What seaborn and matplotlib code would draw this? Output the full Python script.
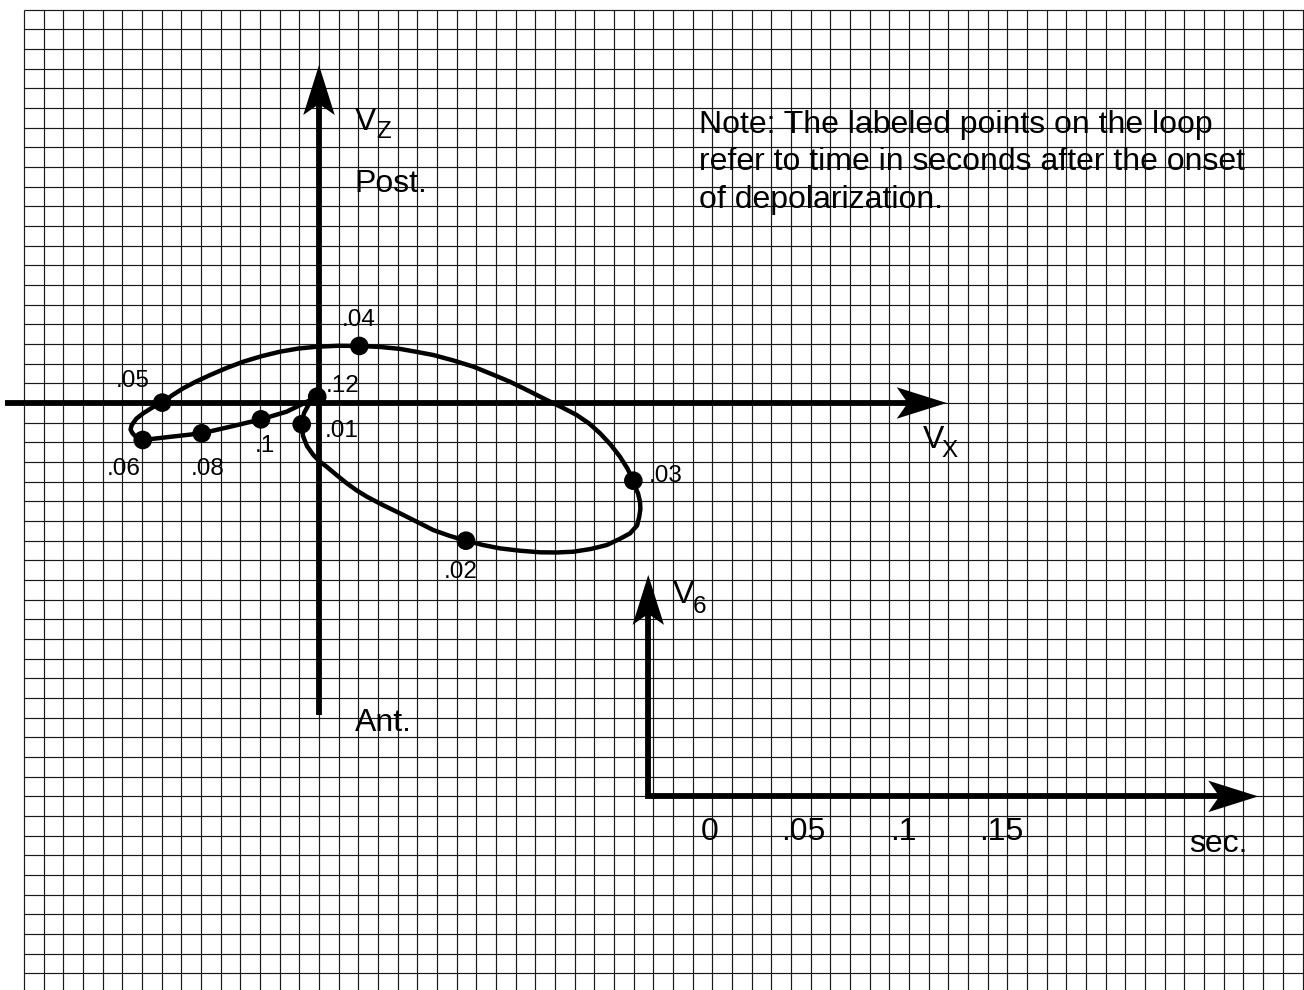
#!/usr/bin/env python3

import pandas as pd
import matplotlib
matplotlib.use("Agg")
from matplotlib import pyplot as plt
from matplotlib.patches import Polygon
import seaborn as sns


# VCG loop trace, in grid squares from the Vx/Vz origin (x right, z up)
loop_x = [-0.51, -0.76, -0.88, -0.81, -0.61, -0.29, 0.03, 0.39, 0.89, 1.41,
          1.91, 2.43, 3.25, 4.12, 4.96, 5.81, 6.63, 7.47, 8.34, 9.20,
          10.22, 11.24, 12.08, 12.93, 13.83, 14.63, 15.27, 15.81, 16.17, 16.28,
          16.34, 16.32, 16.22, 16.07, 15.98, 15.68, 15.30, 14.82, 14.29, 13.73,
          13.10, 12.35, 11.58, 10.65, 9.71, 8.78, 7.84, 6.84, 5.81, 4.96,
          4.12, 3.10, 2.05, 0.97, -0.12, -1.04, -1.98, -2.92, -3.85, -4.70,
          -5.54, -6.23, -6.90, -7.45, -7.97, -8.47, -8.93, -9.28, -9.52, -9.58,
          -9.48, -9.26, -8.96, -7.74, -5.96, -4.36, -2.95, -1.64, -0.09]
loop_z = [-0.05, -0.51, -1.08, -1.68, -2.19, -2.64, -2.97, -3.24, -3.66, -4.08,
          -4.44, -4.76, -5.19, -5.61, -6.03, -6.46, -6.75, -7.00, -7.22, -7.39,
          -7.51, -7.59, -7.60, -7.56, -7.42, -7.22, -6.92, -6.63, -6.23, -5.78,
          -5.39, -5.02, -4.60, -4.26, -3.95, -3.33, -2.73, -2.11, -1.54, -1.04,
          -0.61, -0.22, 0.15, 0.62, 1.08, 1.47, 1.85, 2.16, 2.44, 2.60,
          2.75, 2.85, 2.90, 2.91, 2.86, 2.77, 2.61, 2.38, 2.10, 1.78,
          1.42, 1.10, 0.75, 0.40, 0.02, -0.23, -0.52, -0.79, -1.12, -1.35,
          -1.54, -1.77, -1.88, -1.74, -1.54, -1.17, -0.83, -0.44, 0.32]

# labeled points on the loop (seconds after onset)
point_labels = [".01", ".02", ".03", ".04", ".05", ".06", ".08", ".1", ".12"]
point_x = [-0.88, 7.47, 15.98, 2.05, -7.97, -8.96, -5.96, -2.95, -0.09]
point_z = [-1.08, -7.00, -3.95, 2.90, 0.02, -1.88, -1.54, -0.83, 0.32]
label_dx = [1.19, -1.15, 0.76, -0.90, -2.35, -1.83, -0.56, -0.30, 0.45]
label_dz = [-0.63, -1.91, -0.05, 1.01, 0.81, -1.78, -2.12, -1.65, 0.25]

# V6 time axis labels
time_ticks = ["0", ".05", ".1", ".15"]
time_tick_x = [19.88, 24.61, 29.69, 34.71]

note_lines = [
    "Note: The labeled points on the loop",
    "refer to time in seconds after the onset",
    "of depolarization.",
]

unit_px = 19.67
origin_px = (319, 403)
width_px, height_px = 1304, 990

big_font = 23
small_font = 17.5
axis_lw = 4.2


def arrow_head(ax, tip, direction, length=2.54, half_width=0.8, notch=0.56):
    tx, ty = tip
    dx, dy = direction
    nx, ny = -dy, dx
    bx, by = tx - dx * length, ty - dy * length
    pts = [
        (tx, ty),
        (bx + nx * half_width, by + ny * half_width),
        (bx + dx * notch, by + dy * notch),
        (bx - nx * half_width, by - ny * half_width),
    ]
    ax.add_patch(Polygon(pts, closed=True, facecolor="black", edgecolor="none", zorder=5))
    return bx + dx * notch, by + dy * notch


def draw_grid(ax, xlim, ylim):
    xs = range(-15, 51)
    ys = range(-29, 21)
    ax.vlines(list(xs), ylim[0], 20, colors="#1a1a1a", linewidth=0.85, zorder=1)
    ax.hlines(list(ys), -15, xlim[1], colors="#1a1a1a", linewidth=0.85, zorder=1)


def put_text(ax, x, y, s, size=big_font, ha="left"):
    ax.text(x, y, s, fontsize=size, ha=ha, va="baseline", color="black", zorder=6)


def sub_label(ax, x, y, main, sub, dx, dy):
    put_text(ax, x, y, main)
    put_text(ax, x + dx, y + dy, sub, size=small_font)


def gen_vcg_fig(out_path):
    sns.set_theme(style="white")
    plt.rcParams["font.family"] = ["Liberation Sans", "DejaVu Sans"]

    fig = plt.figure(figsize=(width_px / 100, height_px / 100), dpi=100)
    ax = fig.add_axes([0, 0, 1, 1])
    xlim = (-origin_px[0] / unit_px, (width_px - origin_px[0]) / unit_px)
    ylim = ((origin_px[1] - height_px) / unit_px, origin_px[1] / unit_px)

    draw_grid(ax, xlim, ylim)

    # Vx / Vz axes
    end_x = arrow_head(ax, (31.91, 0), (1, 0))
    ax.plot([-15.96, end_x[0]], [0, 0], color="black", lw=axis_lw,
            solid_capstyle="butt", zorder=4)
    end_z = arrow_head(ax, (0, 17.18), (0, 1))
    ax.plot([0, 0], [-15.86, end_z[1]], color="black", lw=axis_lw,
            solid_capstyle="butt", zorder=4)

    # V6 / time axes
    v6_x, v6_base = 16.74, -20.0
    top = arrow_head(ax, (v6_x, -8.74), (0, 1))
    right = arrow_head(ax, (47.75, v6_base), (1, 0))
    ax.plot([v6_x, v6_x, right[0]], [top[1], v6_base, v6_base], color="black",
            lw=axis_lw, solid_capstyle="butt", solid_joinstyle="miter", zorder=4)

    # loop
    loop_df = pd.DataFrame({"x": loop_x, "z": loop_z})
    sns.lineplot(data=loop_df, x="x", y="z", sort=False, estimator=None,
                 color="black", linewidth=3.2, ax=ax, zorder=3)
    loop_line = ax.lines[-1]
    loop_line.set_solid_joinstyle("round")
    loop_line.set_solid_capstyle("round")

    pts_df = pd.DataFrame({"x": point_x, "z": point_z, "label": point_labels})
    sns.scatterplot(data=pts_df, x="x", y="z", color="black", s=180,
                    edgecolor="none", ax=ax, zorder=6, legend=False)
    for lab, x, z, dx, dz in zip(point_labels, point_x, point_z, label_dx, label_dz):
        put_text(ax, x + dx, z + dz, lab, size=small_font)

    ax.set_xlim(*xlim)
    ax.set_ylim(*ylim)
    ax.axis("off")

    # axis texts
    sub_label(ax, 1.83, 13.88, "V", "Z", 1.10, -0.41)
    put_text(ax, 1.78, 10.74, "Post.")
    put_text(ax, 1.83, -16.68, "Ant.")
    sub_label(ax, 30.71, -2.29, "V", "X", 0.95, -0.44)
    sub_label(ax, 18.0, -10.18, "V", "6", 1.0, -0.48)
    put_text(ax, 44.23, -22.81, "sec.")
    for lab, x in zip(time_ticks, time_tick_x):
        put_text(ax, x, -22.22, lab, ha="center")

    for i, line in enumerate(note_lines):
        put_text(ax, 19.3, 13.73 - i * 1.906, line)

    fig.savefig(out_path, dpi=100, facecolor="white")


if __name__ == "__main__":
    gen_vcg_fig("out.png")
